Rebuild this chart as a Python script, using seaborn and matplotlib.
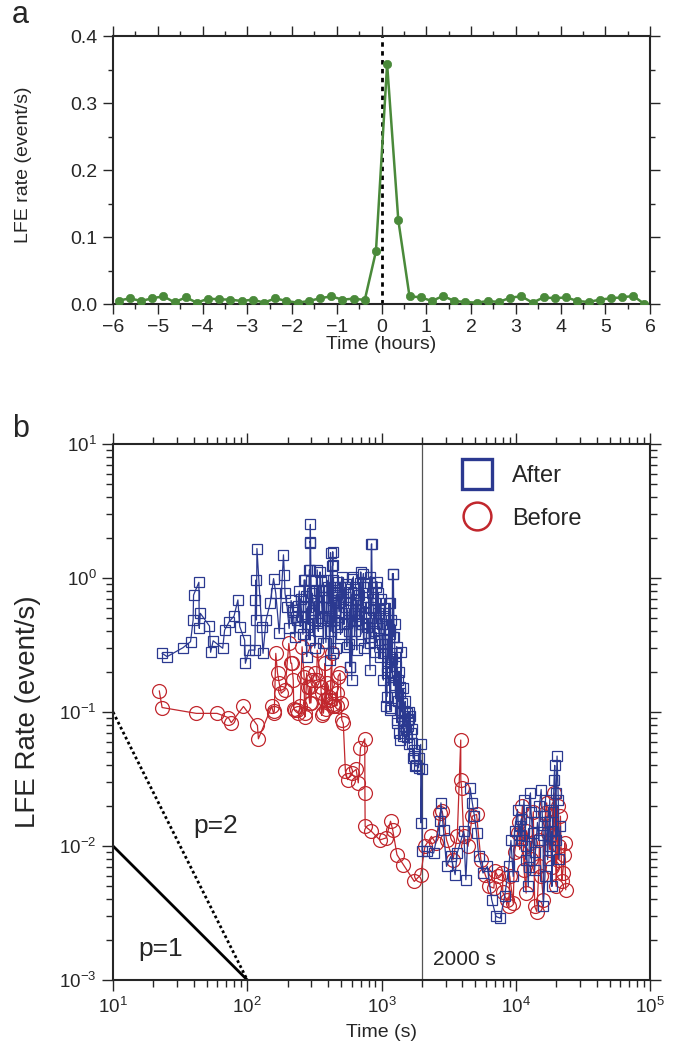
import numpy as np
import pandas as pd
import seaborn as sns
import matplotlib
matplotlib.use("Agg")
import matplotlib.pyplot as plt
from matplotlib.lines import Line2D
from matplotlib.ticker import MultipleLocator, LogLocator, FormatStrFormatter, NullFormatter

# ---- panel a: hourly LFE rate around the event (15 min bins) ----
hours = [-5.875, -5.625, -5.375, -5.125, -4.875, -4.625, -4.375, -4.125,
         -3.875, -3.625, -3.375, -3.125, -2.875, -2.625, -2.375, -2.125,
         -1.875, -1.625, -1.375, -1.125, -0.875, -0.625, -0.375, -0.125,
         0.125, 0.375, 0.625, 0.875, 1.125, 1.375, 1.625, 1.875,
         2.125, 2.375, 2.625, 2.875, 3.125, 3.375, 3.625, 3.875,
         4.125, 4.375, 4.625, 4.875, 5.125, 5.375, 5.625, 5.875]
hour_rate = [0.005, 0.0085, 0.0045, 0.0085, 0.0115, 0.0025, 0.010, 0.002,
             0.008, 0.007, 0.0065, 0.0045, 0.0065, 0.002, 0.0085, 0.0045,
             0.002, 0.0045, 0.0085, 0.0115, 0.0065, 0.008, 0.006, 0.0785,
             0.358, 0.125, 0.0115, 0.010, 0.0045, 0.012, 0.0045, 0.003,
             0.002, 0.0045, 0.003, 0.0095, 0.0115, 0.002, 0.010, 0.0085,
             0.010, 0.0045, 0.003, 0.0065, 0.0085, 0.010, 0.012, 0.000]

# ---- panel b: LFE rate vs time since event (s) ----
after_t = [23.2, 25.3, 33.2, 37.8, 39.8, 43.6, 44.7, 39.5, 43.9, 52.3, 55.7, 53.3,
           65.6, 67.8, 73.3, 79.7, 85.1, 87.9, 95.6, 96.8, 103, 114, 115, 116,
           118, 117, 128, 131, 138, 148, 157, 163, 173, 186, 189, 191, 198, 218,
           232, 248, 265, 282, 290, 294, 295, 305, 321, 332, 366, 391, 417, 430,
           439, 444, 475, 506, 540, 583, 607, 615, 656, 700, 723, 747, 787, 823,
           839, 851, 907, 938, 968, 1033, 1089, 1138, 1175, 1207, 1239, 1271,
           1321, 1383, 1429, 1503, 1574,
           293, 433, 433, 845, 1225, 270, 293, 348, 369, 438, 491, 617, 733, 821,
           921, 947, 262, 310, 369, 438, 520, 654, 821, 975, 1157, 233, 277, 329,
           391, 463, 551, 654, 776, 921, 1157, 1225, 1297, 220, 293, 369, 438,
           551, 654, 821, 975, 1094, 277, 413, 582, 600, 821, 1032, 1157, 1094,
           1157, 1374, 1297, 1374, 1453, 1541,
           250, 300, 340, 380, 420, 460, 500, 530, 570, 620, 680, 700, 760, 860,
           880, 1000, 1050, 1100, 1200, 1250, 1350, 1400, 1450, 1500, 1600, 1650,
           205, 212, 226, 238, 244, 255, 260, 272, 285, 298, 312, 318, 326, 338,
           345, 352, 362, 375, 385, 398, 405, 422, 447, 455, 470, 482, 495, 512,
           525, 545, 560, 575, 590, 630, 640, 665, 690, 710, 735, 770, 800, 830,
           870, 890, 950, 990, 1010, 1060, 1120, 1150, 1190, 1260, 1280, 1330,
           1410, 1470, 1520, 1560, 1610, 1720, 1750, 1820, 1900, 1680, 1600,
           1084, 1167, 1303, 1352, 1455, 1570, 1629, 1690, 1754, 1780, 1887, 1958,
           2001, 1960, 2005, 2188, 2444, 2730, 2770, 2896, 3049, 3283, 3533, 3665,
           4094, 4246, 4571, 4743, 4921, 5106, 5297, 5703, 6139, 6617, 7123, 7668,
           8255, 8887, 9567, 10300, 10690, 11090, 11510, 11940, 12390, 12850,
           13340, 13830, 14890, 15450, 16030, 16630, 17260, 17910, 18580, 19280,
           20000, 20300, 20730, 21510,
           10500, 11000, 12000, 13000, 14000, 15000, 16000, 17000, 18000, 19000,
           20000, 21000, 12500, 14500, 16500, 18500, 19500, 9800, 9200]
after_r = [0.274, 0.259, 0.302, 0.335, 0.746, 0.929, 0.545, 0.486, 0.421, 0.438, 0.340, 0.279,
           0.299, 0.409, 0.472, 0.520, 0.686, 0.434, 0.344, 0.231, 0.290, 0.290, 0.686, 0.966,
           1.66, 0.486, 0.434, 0.274, 0.486, 0.647, 0.99, 0.769, 0.386, 1.49, 1.05, 0.769, 0.611, 0.561,
           0.514, 0.434, 0.966, 0.611, 1.15, 1.84, 2.51, 0.769, 0.486, 1.15, 0.726, 0.966, 1.55, 1.22,
           0.861, 0.486, 0.769, 1.02, 0.611, 0.218, 0.99, 0.769, 0.486, 1.11, 0.861, 0.611, 0.386, 1.02,
           1.78, 0.769, 0.861, 0.545, 0.344, 0.274, 0.195, 0.647, 0.486, 1.08, 0.365, 0.274,
           0.173, 0.138, 0.116, 0.0977, 0.0871,
           1.87, 1.57, 1.25, 1.80, 1.08, 0.966, 1.15, 1.11, 0.813, 0.966, 0.862, 1.02, 1.08, 0.913,
           0.94, 0.769, 0.611, 0.647, 0.611, 0.686, 0.647, 0.686, 0.611, 0.577, 0.647, 0.486, 0.434, 0.459,
           0.486, 0.434, 0.459, 0.486, 0.434, 0.459, 0.409, 0.365, 0.307, 0.577, 0.344, 0.325, 0.274,
           0.307, 0.290, 0.325, 0.259, 0.218, 0.259, 0.244, 0.218, 0.173, 0.206, 0.173, 0.155, 0.130,
           0.103, 0.155, 0.087, 0.062, 0.078, 0.098,
           0.70, 0.55, 0.80, 0.50, 0.60, 0.75, 0.55, 0.85, 0.40, 0.55, 0.75, 0.38, 0.55, 0.70,
           0.40, 0.45, 0.60, 0.35, 0.25, 0.45, 0.20, 0.28, 0.15, 0.12, 0.10, 0.07,
           0.42, 0.68, 0.36, 0.62, 0.80, 0.52, 0.38, 0.74, 0.45, 0.95, 0.58, 0.30, 0.82, 0.40,
           0.62, 0.95, 0.50, 0.72, 0.33, 0.85, 0.52, 0.40, 0.66, 0.30, 0.93, 0.56, 0.38, 0.70,
           0.45, 0.90, 0.58, 0.32, 0.78, 0.40, 0.70, 0.52, 0.92, 0.45, 0.30, 0.66, 0.50, 0.36,
           0.58, 0.28, 0.42, 0.70, 0.32, 0.52, 0.24, 0.38, 0.20, 0.16, 0.22, 0.12,
           0.10, 0.085, 0.075, 0.065, 0.058, 0.045, 0.052, 0.040, 0.045, 0.075, 0.088,
           0.111, 0.108, 0.0832, 0.070, 0.066, 0.0786, 0.0933, 0.059, 0.0469, 0.0394, 0.0383, 0.0573,
           0.0373, 0.0149, 0.0091, 0.0091, 0.00887, 0.0153, 0.0210, 0.0132, 0.00705, 0.00837, 0.00611, 0.00887,
           0.0129, 0.00560, 0.0272, 0.0210, 0.0167, 0.0125, 0.00837, 0.00628, 0.00705, 0.00397, 0.00298, 0.00289,
           0.00420, 0.00705, 0.00593, 0.0187, 0.0140, 0.0111, 0.0222, 0.00791, 0.00499, 0.0249,
           0.0125, 0.00666, 0.0111, 0.0264, 0.00354, 0.0167, 0.00791, 0.0222, 0.00499, 0.0313,
           0.0111, 0.0469, 0.0222, 0.0140,
           0.012, 0.016, 0.010, 0.018, 0.009, 0.020, 0.012, 0.015, 0.010, 0.018,
           0.025, 0.008, 0.007, 0.015, 0.006, 0.013, 0.040, 0.013, 0.011]

before_t = [22.1, 23.2, 41.7, 59.6, 72.3, 76, 93.7, 119, 121, 152, 157, 159, 163, 168,
            173, 179, 191, 204, 211, 214, 220, 222, 225, 233, 240, 248, 256, 265, 267,
            270, 277, 282, 292, 293, 298, 305, 321, 329, 332, 354, 358, 360, 369, 378,
            380, 386, 391, 403, 413, 417, 425, 432, 438, 444, 463, 464, 475, 491, 500,
            506, 519, 538, 558, 601, 647, 671, 697, 750, 752, 755, 838, 971, 1084, 1167,
            1211, 1303, 1455, 1754, 1958, 2107, 2354, 2535, 2730, 2831, 3049, 3404, 3665,
            3890, 3895, 3948, 4094, 4406, 4743, 5106, 5495, 5915, 6368, 6866, 7390, 7955,
            8564, 8887, 9567, 10300, 10690, 11510, 11940, 12850, 13830, 14350, 14890,
            16030, 16630, 17260, 17910, 19280, 20000, 20730, 21510, 22340, 23170, 23550,
            9000, 9800, 10500, 11200, 12000, 13000, 13500, 15000, 15500, 17000, 18000,
            18500, 19000, 20500, 21000, 22000, 23000, 8000, 7000]
before_r = [0.144, 0.108, 0.0977, 0.0977, 0.0908, 0.0832, 0.110, 0.0794, 0.0631, 0.110, 0.0977, 0.1017, 0.274, 0.195,
            0.164, 0.138, 0.146, 0.325, 0.231, 0.231, 0.173, 0.105, 0.1035, 0.103, 0.0977, 0.111, 0.307, 0.184, 0.0989,
            0.0923, 0.195, 0.155, 0.116, 0.155, 0.117, 0.173, 0.195, 0.173, 0.290, 0.155, 0.0944, 0.138, 0.098, 0.123,
            0.231, 0.105, 0.164, 0.130, 0.123, 0.155, 0.274, 0.114, 0.110, 0.110, 0.138, 0.111, 0.184, 0.195, 0.116,
            0.0871, 0.0822, 0.0362, 0.0313, 0.0351, 0.0373, 0.0296, 0.0541, 0.0631, 0.0249, 0.0140, 0.0129, 0.0111, 0.0115, 0.0153,
            0.0132, 0.00861, 0.00725, 0.00544, 0.00611, 0.00995, 0.0118, 0.0105, 0.0177, 0.0182, 0.0111, 0.00791, 0.0118,
            0.0618, 0.0313, 0.0272, 0.0118, 0.00995, 0.0167, 0.0172, 0.00791, 0.00611, 0.00499, 0.00485, 0.00593, 0.00628,
            0.00397, 0.00354, 0.00375, 0.0125, 0.0094, 0.00666, 0.00445, 0.0105, 0.00354, 0.00324, 0.00705,
            0.00397, 0.0177, 0.0125, 0.0094, 0.0249, 0.00499, 0.00791, 0.0167, 0.00628, 0.0105, 0.00471,
            0.006, 0.009, 0.015, 0.020, 0.013, 0.008, 0.018, 0.011, 0.006, 0.021, 0.015,
            0.007, 0.012, 0.020, 0.010, 0.0055, 0.0085, 0.0045, 0.0065]

# Omori-type reference slopes
ref_t = [10, 100]
p1_r = [1e-2, 1e-3]
p2_r = [1e-1, 1e-3]

GREEN = '#4a8a3a'
BLUE = '#2b3990'
RED = '#c1272d'

sns.set_style('ticks')
plt.rcParams['font.family'] = ['Liberation Sans', 'DejaVu Sans']
plt.rcParams['mathtext.fontset'] = 'custom'
plt.rcParams['mathtext.rm'] = 'Liberation Sans'
plt.rcParams['mathtext.it'] = 'Liberation Sans:italic'

fig = plt.figure(figsize=(6.76, 10.44), dpi=100)
ax1 = fig.add_axes([0.1672, 0.7088, 0.7944, 0.2567])
ax2 = fig.add_axes([0.1672, 0.0613, 0.7944, 0.5134])

# ---------- panel a ----------
df_a = pd.DataFrame({'hours': hours, 'rate': hour_rate})
ax1.axvline(0, color='black', ls=(0, (1.6, 1.6)), lw=2, zorder=1)
sns.lineplot(data=df_a, x='hours', y='rate', ax=ax1, color=GREEN, lw=1.8,
             marker='o', markersize=6, markeredgecolor=GREEN, markeredgewidth=0.5, zorder=3)
ax1.set_xlim(-6, 6)
ax1.set_ylim(0, 0.4)
ax1.xaxis.set_major_locator(MultipleLocator(1))
ax1.xaxis.set_minor_locator(MultipleLocator(0.5))
ax1.yaxis.set_major_locator(MultipleLocator(0.1))
ax1.yaxis.set_minor_locator(MultipleLocator(0.05))
ax1.yaxis.set_major_formatter(FormatStrFormatter('%.1f'))
ax1.tick_params(which='both', direction='out', top=True, right=True, width=1, labelsize=14, pad=4)
ax1.tick_params(which='major', length=7)
ax1.tick_params(which='minor', length=3.5)
ax1.set_xlabel('Time (hours)', fontsize=14)
ax1.set_ylabel('LFE rate (event/s)', fontsize=14)
ax1.xaxis.set_label_coords(0.5, -0.12)
ax1.yaxis.set_label_coords(-0.15, 0.52)
for s in ax1.spines.values():
    s.set_linewidth(1.5)

# ---------- panel b ----------
ax2.set_xscale('log')
ax2.set_yscale('log')
df_before = pd.DataFrame({'time': before_t, 'rate': before_r})
df_after = pd.DataFrame({'time': after_t, 'rate': after_r})
sns.lineplot(data=df_before, x='time', y='rate', ax=ax2, estimator=None, sort=True,
             color=RED, lw=0.9, marker='o', markersize=10, markerfacecolor='none',
             markeredgecolor=RED, markeredgewidth=0.9, zorder=3)
sns.lineplot(data=df_after, x='time', y='rate', ax=ax2, estimator=None, sort=True,
             color=BLUE, lw=0.9, marker='s', markersize=7, markerfacecolor='none',
             markeredgecolor=BLUE, markeredgewidth=0.9, zorder=4)
ax2.plot(ref_t, p1_r, color='black', lw=2, solid_capstyle='butt')
ax2.plot(ref_t, p2_r, color='black', lw=2, ls=(0, (1, 1)))
ax2.axvline(2000, color='#555555', lw=0.9, zorder=2)

ax2.text(15.4, 0.00151, 'p=1', fontsize=19)
ax2.text(39.5, 0.0125, 'p=2', fontsize=19)
ax2.text(2420, 0.00129, '2000 s', fontsize=15)

ax2.set_xlim(10, 1e5)
ax2.set_ylim(1e-3, 1e1)
ax2.xaxis.set_major_locator(LogLocator(base=10, numticks=10))
ax2.xaxis.set_minor_locator(LogLocator(base=10, subs=np.arange(2, 10), numticks=20))
ax2.yaxis.set_major_locator(LogLocator(base=10, numticks=10))
ax2.yaxis.set_minor_locator(LogLocator(base=10, subs=np.arange(2, 10), numticks=20))
ax2.xaxis.set_minor_formatter(NullFormatter())
ax2.yaxis.set_minor_formatter(NullFormatter())
ax2.tick_params(which='both', direction='out', top=True, right=True, width=1, labelsize=13.5, pad=4)
ax2.tick_params(which='major', length=8)
ax2.tick_params(which='minor', length=5)
ax2.set_xlabel('Time (s)', fontsize=14)
ax2.set_ylabel('LFE Rate (event/s)', fontsize=20)
ax2.xaxis.set_label_coords(0.5, -0.083)
ax2.yaxis.set_label_coords(-0.135, 0.5)
for s in ax2.spines.values():
    s.set_linewidth(1.5)

handles = [Line2D([], [], ls='none', marker='s', markersize=21, markerfacecolor='none',
                  markeredgecolor=BLUE, markeredgewidth=2.4),
           Line2D([], [], ls='none', marker='o', markersize=20, markerfacecolor='none',
                  markeredgecolor=RED, markeredgewidth=1.8)]
ax2.legend(handles, ['After', 'Before'], loc='upper left', bbox_to_anchor=(0.644, 0.96),
           frameon=False, fontsize=17, borderaxespad=0, borderpad=0,
           handlelength=1.5, handletextpad=0.75, labelspacing=0.85)

fig.text(0.018, 0.978, 'a', fontsize=22)
fig.text(0.018, 0.581, 'b', fontsize=22)

fig.savefig('out.png', dpi=100)
